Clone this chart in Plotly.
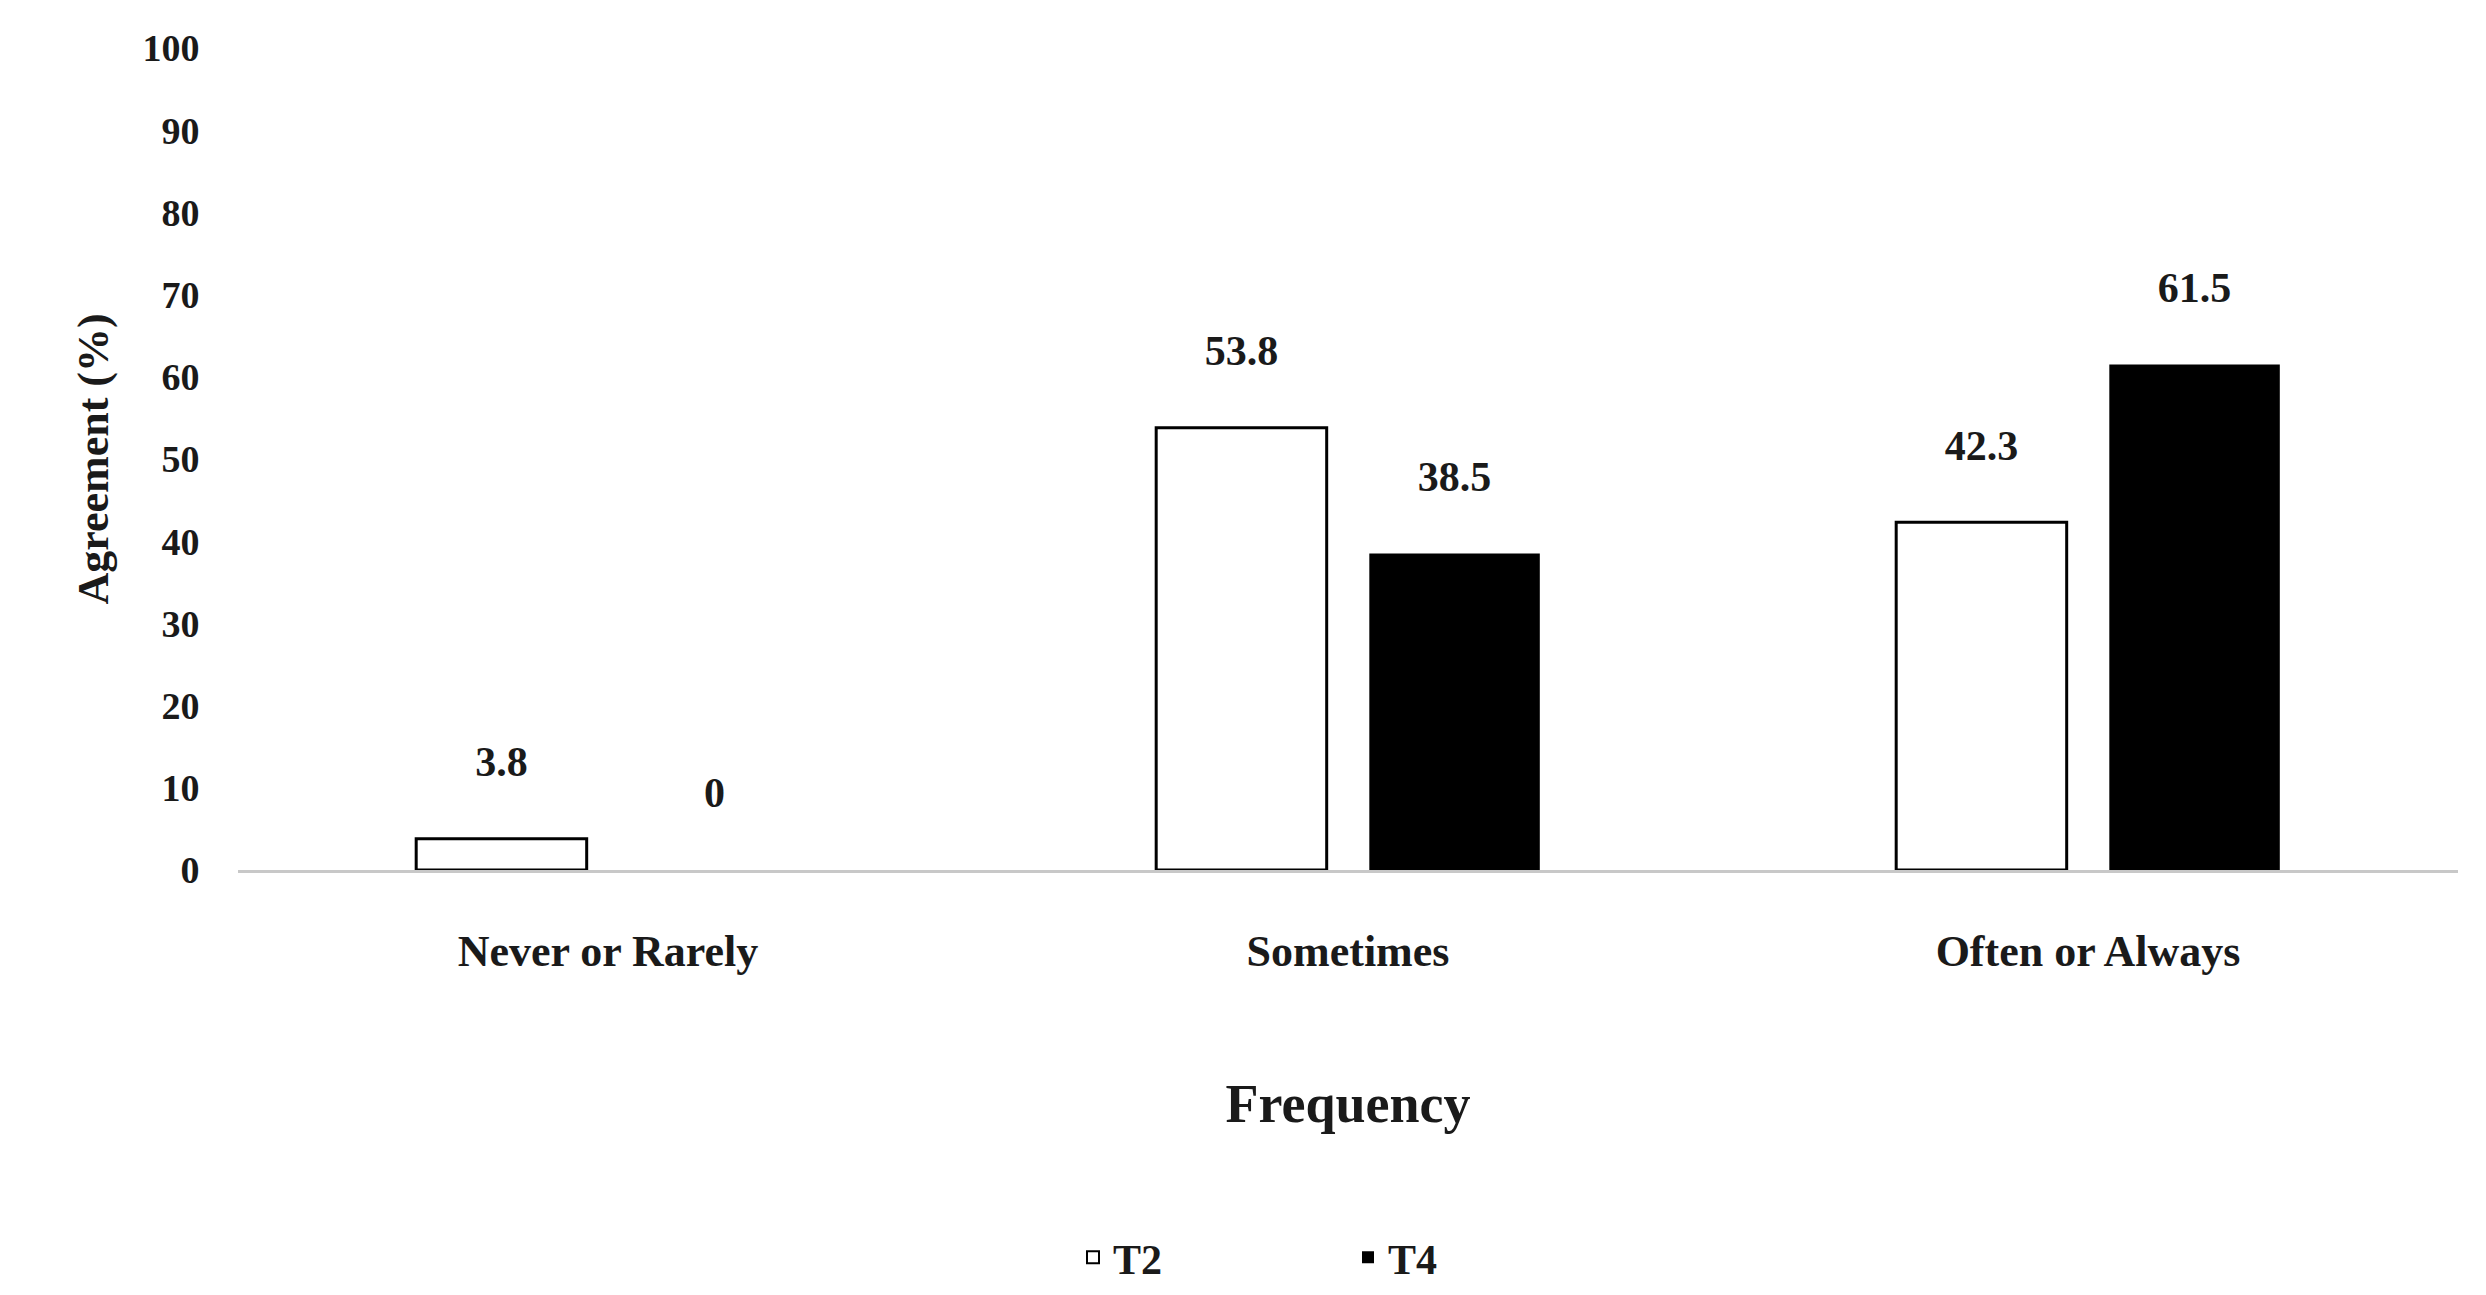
import plotly.graph_objects as go

categories = ["Never or Rarely", "Sometimes", "Often or Always"]
t2 = [3.8, 53.8, 42.3]
t4 = [0, 38.5, 61.5]
yticks = list(range(0, 101, 10))

FAM = "Liberation Serif"
COL = "#1a1a1a"
tmpl = "<b>%{text}</b><br><span style='font-size:22px'> </span>"

fig = go.Figure()
fig.add_trace(go.Bar(name="<b>T2</b>", x=categories, y=t2,
                     marker=dict(color="white", line=dict(color="black", width=3)),
                     text=[f"{v:g}" for v in t2], texttemplate=tmpl, textposition="outside",
                     textfont=dict(size=42, family=FAM, color=COL), cliponaxis=False))
fig.add_trace(go.Bar(name="<b>T4</b>", x=categories, y=t4,
                     marker=dict(color="black", line=dict(color="black", width=0)),
                     text=[f"{v:g}" for v in t4], texttemplate=tmpl, textposition="outside",
                     textfont=dict(size=42, family=FAM, color=COL), cliponaxis=False))

fig.update_layout(
    width=2486, height=1295, barmode="group", bargap=0.424, bargroupgap=0.2,
    plot_bgcolor="white", paper_bgcolor="white",
    margin=dict(l=230, r=36, t=40, b=387),
    font=dict(size=36, family=FAM, color=COL),
    uniformtext=dict(mode=False),
    xaxis=dict(showline=True, linecolor="#c8c8c8", linewidth=3, ticks="outside", ticklen=40,
               tickcolor="rgba(0,0,0,0)",
               tickfont=dict(size=44, family=FAM, color=COL, weight="bold"),
               title=dict(text="<b>Frequency</b>", font=dict(size=54, family=FAM, color=COL), standoff=110)),
    yaxis=dict(range=[0, 100], tickvals=yticks, showgrid=False, zeroline=False,
               ticks="outside", ticklen=30, tickcolor="rgba(0,0,0,0)",
               tickfont=dict(size=38, family=FAM, color=COL, weight="bold"),
               title=dict(text="<b>Agreement (%)</b>", font=dict(size=44, family=FAM, color=COL), standoff=20)),
    legend=dict(orientation="h", x=0.5, xanchor="center", y=-0.43, yanchor="top",
                font=dict(size=42, family=FAM, color=COL), entrywidth=230, itemsizing="constant"),
)
fig.write_html("out.html")
